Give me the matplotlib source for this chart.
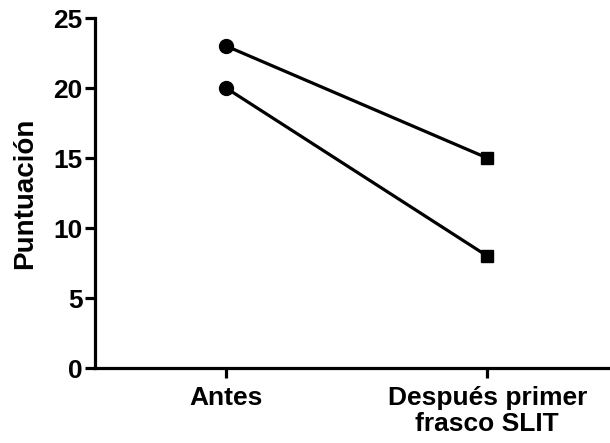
import matplotlib
matplotlib.use("Agg")
import matplotlib.pyplot as plt

categories = ["Antes", "Después primer\nfrasco SLIT"]
series_a = [23, 15]
series_b = [20, 8]
yticks = [0, 5, 10, 15, 20, 25]

plt.rcParams['font.family'] = ['Liberation Sans', 'DejaVu Sans']
plt.rcParams['font.weight'] = 'bold'

fig = plt.figure(figsize=(6.1, 4.43), dpi=100)
ax = fig.add_axes([95/610, 1 - 368/443, 1 - 95/610, 350/443])

x = list(range(len(categories)))
for s in (series_a, series_b):
    ax.plot(x, s, color='black', lw=2.3, zorder=2)
    ax.plot(x[0], s[0], 'o', color='black', ms=10, zorder=3)
    ax.plot(x[1], s[1], 's', color='black', ms=9, zorder=3)

ax.set_xlim(-0.502, 1.47)
ax.set_ylim(0, 25)
ax.set_yticks(yticks)
ax.set_xticks(x)
ax.set_xticklabels(categories, fontsize=19, fontweight='bold', linespacing=1.1)
ax.tick_params(axis='y', labelsize=19, width=2.3, length=7, pad=2)
ax.tick_params(axis='x', width=2.3, length=7, pad=6)
for lab in ax.get_yticklabels():
    lab.set_fontweight('bold')
ax.set_ylabel("Puntuación", fontsize=20, fontweight='bold', labelpad=11)

for side in ('top', 'right'):
    ax.spines[side].set_visible(False)
for side in ('left', 'bottom'):
    ax.spines[side].set_linewidth(2.3)
ax.spines['left'].set_capstyle('projecting')

fig.savefig("out.png", dpi=100)
